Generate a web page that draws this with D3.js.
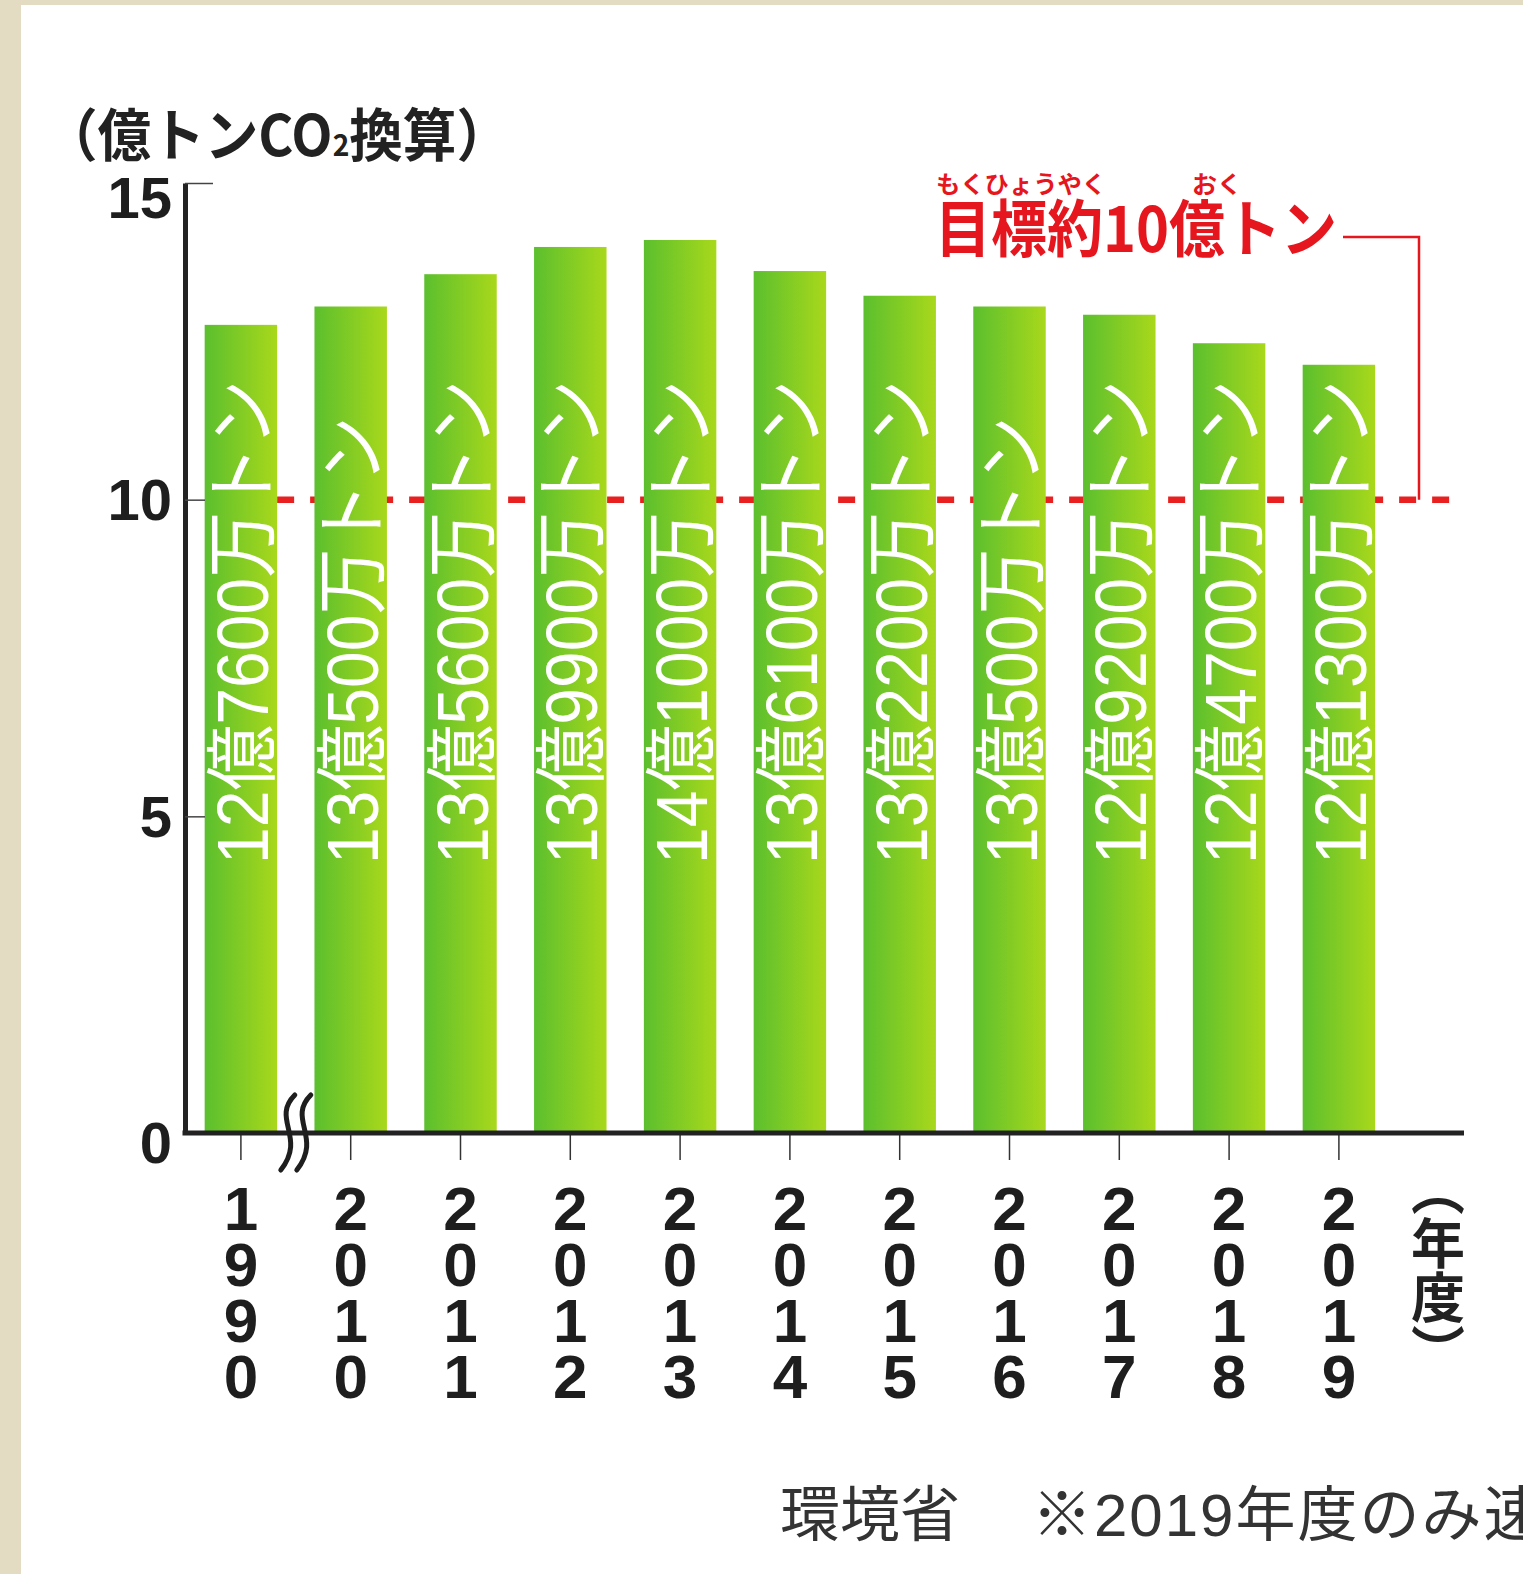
<!DOCTYPE html>
<html>
<head>
<meta charset="utf-8">
<title>温室効果ガス排出量</title>
<script src="https://cdn.jsdelivr.net/npm/d3@7"></script>
<style>
  body { margin: 0; background: #fff; }
  svg { display: block; }
  .axisLeft path { stroke: #222; stroke-width: 5px; }
  .axisLeft line { stroke: #444; stroke-width: 1.5px; }
  .axisLeft text { font-family: "Liberation Sans", Arial, sans-serif; font-weight: bold; font-size: 58px; fill: #1e1e1e; }
  .axisBottom line { stroke: #333; stroke-width: 1.5px; }
  .axisBottom text { font-family: "Liberation Sans", Arial, sans-serif; font-weight: bold; font-size: 62px; fill: #1e1e1e; }
</style>
</head>
<body>
<div class="container"></div>
<script>

// data
var years = ['1990', '2010', '2011', '2012', '2013', '2014', '2015', '2016', '2017', '2018', '2019'];
var values = [12.76, 13.05, 13.56, 13.99, 14.10, 13.61, 13.22, 13.05, 12.92, 12.47, 12.13];
var barLabels = ['12億7600万トン', '13億500万トン', '13億5600万トン', '13億9900万トン', '14億1000万トン',
                 '13億6100万トン', '13億2200万トン', '13億500万トン', '12億9200万トン', '12億4700万トン', '12億1300万トン'];
var yTicks = [0, 5, 10, 15];
var target = 10;

var svgWidth = 1523, svgHeight = 1574;
var margin = {left: 185, top: 183, bottom: 441};
var plotBottom = svgHeight - margin.bottom;   // 1133

var svg = d3.select('.container').append('svg')
  .attr('width', svgWidth)
  .attr('height', svgHeight);

var defs = svg.append('defs');
var grad = defs.append('linearGradient').attr('id', 'barGrad')
  .attr('x1', '0%').attr('x2', '100%').attr('y1', '0%').attr('y2', '0%');
grad.append('stop').attr('offset', '0%').attr('stop-color', '#5bbf2e');
grad.append('stop').attr('offset', '100%').attr('stop-color', '#a9d81b');

// beige frame
svg.append('rect').attr('x', 0).attr('y', 0).attr('width', svgWidth).attr('height', svgHeight).attr('fill', '#e3dcc3');
svg.append('rect').attr('x', 21).attr('y', 5).attr('width', svgWidth - 21).attr('height', svgHeight - 5).attr('fill', '#ffffff');

var x = d3.scaleBand()
  .domain(years)
  .range([margin.left + 1, margin.left + 1 + 109.8 * years.length])
  .paddingInner(0.34)
  .paddingOuter(0.17);

var y = d3.scaleLinear()
  .domain([0, 15])
  .range([plotBottom, margin.top]);

// target dashed line (behind bars)
var dashStart = x(years[0]) + x.bandwidth();
svg.append('line')
  .attr('x1', dashStart).attr('x2', 1458)
  .attr('y1', y(target)).attr('y2', y(target))
  .attr('stroke', '#e8201f')
  .attr('stroke-width', 6.5)
  .attr('stroke-dasharray', '17 16');

// bars
svg.append('g').selectAll('rect')
  .data(values)
  .enter().append('rect')
  .attr('x', (d, i) => x(years[i]))
  .attr('y', d => y(d))
  .attr('width', x.bandwidth())
  .attr('height', d => y(0) - y(d))
  .attr('fill', 'url(#barGrad)');

// vertical labels inside bars
svg.append('g').selectAll('text')
  .data(barLabels)
  .enter().append('text')
  .attr('transform', (d, i) => `translate(${x(years[i]) + x.bandwidth() / 2 + 27},864) rotate(-90) scale(1,1.1)`)
  .attr('font-family', '"Liberation Sans", "Noto Sans CJK JP", sans-serif')
  .attr('font-size', 66)
  .attr('fill', '#ffffff')
  .text(d => d);

// y axis
var yAxis = d3.axisLeft(y).tickValues(yTicks).tickSize(-20).tickSizeOuter(0).tickPadding(13);
var gy = svg.append('g')
  .attr('class', 'axisLeft')
  .attr('transform', `translate(${margin.left},0)`)
  .call(yAxis);
gy.selectAll('.tick text')
  .attr('dy', d => d === 15 ? '0.6em' : (d === 0 ? '0.5em' : '0.34em'));
gy.selectAll('.tick line')
  .attr('x2', d => d === 15 ? 28 : (d === 0 ? 0 : 20));

// x axis
var xAxis = d3.axisBottom(x).tickSize(27).tickSizeOuter(0);
var gx = svg.append('g')
  .attr('class', 'axisBottom')
  .attr('transform', `translate(0,${plotBottom})`)
  .call(xAxis);
gx.select('.domain').remove();
gx.selectAll('.tick text').each(function(d) {
  var t = d3.select(this).text('').attr('dy', null).attr('y', null);
  d.split('').forEach(function(ch, k) {
    t.append('tspan').attr('x', 0).attr('y', 97 + 56 * k).text(ch);
  });
});

svg.append('line')
  .attr('x1', margin.left - 2.5).attr('x2', 1464)
  .attr('y1', plotBottom).attr('y2', plotBottom)
  .attr('stroke', '#222').attr('stroke-width', 5);

// axis break mark between 1990 and 2010
var bx = (x(years[0]) + x.bandwidth() + x(years[1])) / 2;
var brk = svg.append('g').attr('transform', `translate(${bx},${plotBottom})`);
brk.selectAll('path.s')
  .data([-8, 8])
  .enter().append('path')
  .attr('class', 's')
  .attr('d', d => `M ${d + 7} -38 C ${d - 17} -14, ${d + 19} 4, ${d - 7} 37`)
  .attr('fill', 'none').attr('stroke', '#1e1e1e').attr('stroke-width', 5).attr('stroke-linecap', 'round');

// unit label
var unit = svg.append('text')
  .attr('x', 44).attr('y', 156)
  .attr('font-family', '"Noto Sans CJK JP", sans-serif')
  .attr('font-weight', 'bold')
  .attr('font-size', 57)
  .attr('fill', '#222')
  .attr('textLength', 466)
  .attr('lengthAdjust', 'spacingAndGlyphs');
unit.append('tspan').text('（億トンCO');
unit.append('tspan').attr('font-size', 30).text('2');
unit.append('tspan').text('換算）');

// (年度)
svg.append('text')
  .attr('x', 1438).attr('y', 1162)
  .attr('font-family', '"Noto Sans CJK JP", sans-serif')
  .attr('font-weight', 'bold')
  .attr('font-size', 54)
  .attr('fill', '#222')
  .style('writing-mode', 'vertical-rl')
  .text('（年度）');

// target label
svg.append('text')
  .attr('x', 935).attr('y', 252)
  .attr('font-family', '"Noto Sans CJK JP", sans-serif')
  .attr('font-weight', 'bold')
  .attr('font-size', 62)
  .attr('fill', '#e5161e')
  .attr('textLength', 402)
  .attr('lengthAdjust', 'spacingAndGlyphs')
  .text('目標約' + target + '億トン');

svg.selectAll('text.ruby')
  .data([['もくひょうやく', 936, 170], ['おく', 1192, 50]])
  .enter().append('text')
  .attr('class', 'ruby')
  .attr('x', d => d[1]).attr('y', 193)
  .attr('font-family', '"Noto Sans CJK JP", sans-serif')
  .attr('font-weight', 'bold')
  .attr('font-size', 24)
  .attr('fill', '#e5161e')
  .attr('textLength', d => d[2])
  .attr('lengthAdjust', 'spacingAndGlyphs')
  .text(d => d[0]);

svg.append('polyline')
  .attr('points', `1343,237 1419,237 1419,${y(target)}`)
  .attr('fill', 'none')
  .attr('stroke', '#e5161e')
  .attr('stroke-width', 2.5);

// source
svg.append('text')
  .attr('x', 780).attr('y', 1536)
  .attr('font-family', '"Noto Sans CJK JP", sans-serif')
  .attr('font-size', 60)
  .attr('fill', '#333')
  .text('環境省');
svg.append('text')
  .attr('x', 1032).attr('y', 1536)
  .attr('font-family', '"Liberation Sans", "Noto Sans CJK JP", sans-serif')
  .attr('font-size', 60)
  .attr('letter-spacing', 2)
  .attr('fill', '#333')
  .text('※2019年度のみ速報値');

</script>
</body>
</html>
